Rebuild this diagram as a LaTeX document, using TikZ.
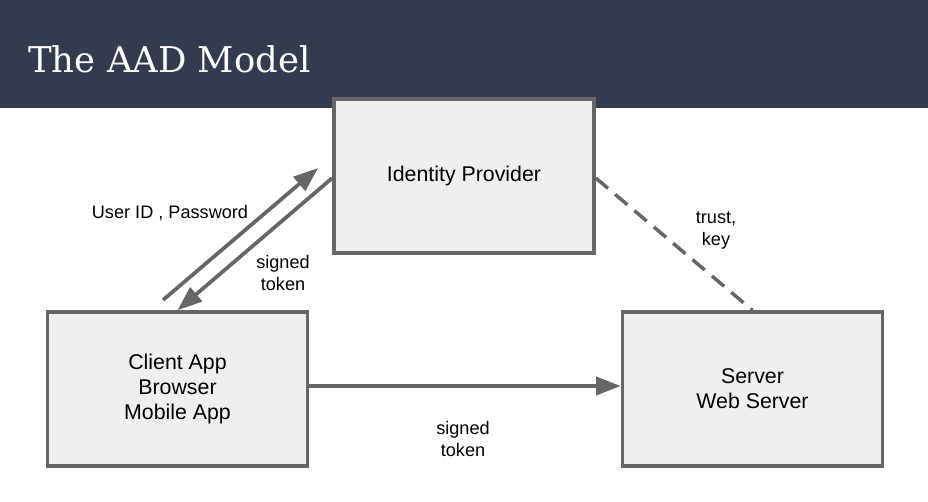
\documentclass[tikz,border=0pt]{standalone}
\usepackage{fontspec}
\setsansfont{Liberation Sans}
\newfontfamily\titlefont{DejaVu Serif}
\usetikzlibrary{arrows.meta}
\definecolor{barblue}{HTML}{343B4F}
\definecolor{boxgray}{HTML}{EFEFEF}
\definecolor{linegray}{HTML}{666666}
\tikzset{
  box/.style={draw=linegray, fill=boxgray, line width=2.6pt, minimum width=195pt, minimum height=115.5pt, inner sep=0pt, align=center, font=\sffamily\fontsize{16}{18.75}\selectfont, text=black},
  lbl/.style={align=center, font=\sffamily\fontsize{13.6}{16.5}\selectfont, text=black, inner sep=0pt},
  arr/.style={draw=linegray, line width=2.8pt, -{Triangle[length=18.5pt, width=13.5pt]}},
  dashline/.style={draw=linegray, line width=2.6pt, dash pattern=on 12pt off 7pt}
}
\begin{document}
\begin{tikzpicture}[x=0.75pt, y=-0.75pt]
\useasboundingbox (0,0) rectangle (928,501);
\fill[white] (0,0) rectangle (928,501);
\fill[barblue] (0,0) rectangle (928,108);
\node[anchor=base west, inner sep=0pt, text=white, font=\titlefont\fontsize{26.6}{32}\selectfont] (title) at (28,72) {The AAD Model};

\node[box] (idp) at (464,176) {Identity Provider};
\node[box] (client) at (177.5,389) {Client App\\Browser\\Mobile App};
\node[box] (server) at (752.5,389) {Server\\Web Server};

\coordinate (u1) at (163,300);
\coordinate (u2) at (318,168);
\draw[arr] (u1) -- (u2);
\draw[arr] ([yshift=-1.5pt]idp.west) -- (client.north);
\draw[arr] ([yshift=2.25pt]client.east) -- ([yshift=2.25pt]server.west);
\draw[dashline] ([yshift=-1.5pt]idp.east) -- (server.north);

\node[lbl] (l1) at (170,213) {User ID , Password};
\node[lbl] (l2) at (283,273) {signed\\token};
\node[lbl] (l3) at (716,231) {trust,\\key};
\node[lbl] (l4) at (463,439) {signed\\token};
\end{tikzpicture}
\end{document}
